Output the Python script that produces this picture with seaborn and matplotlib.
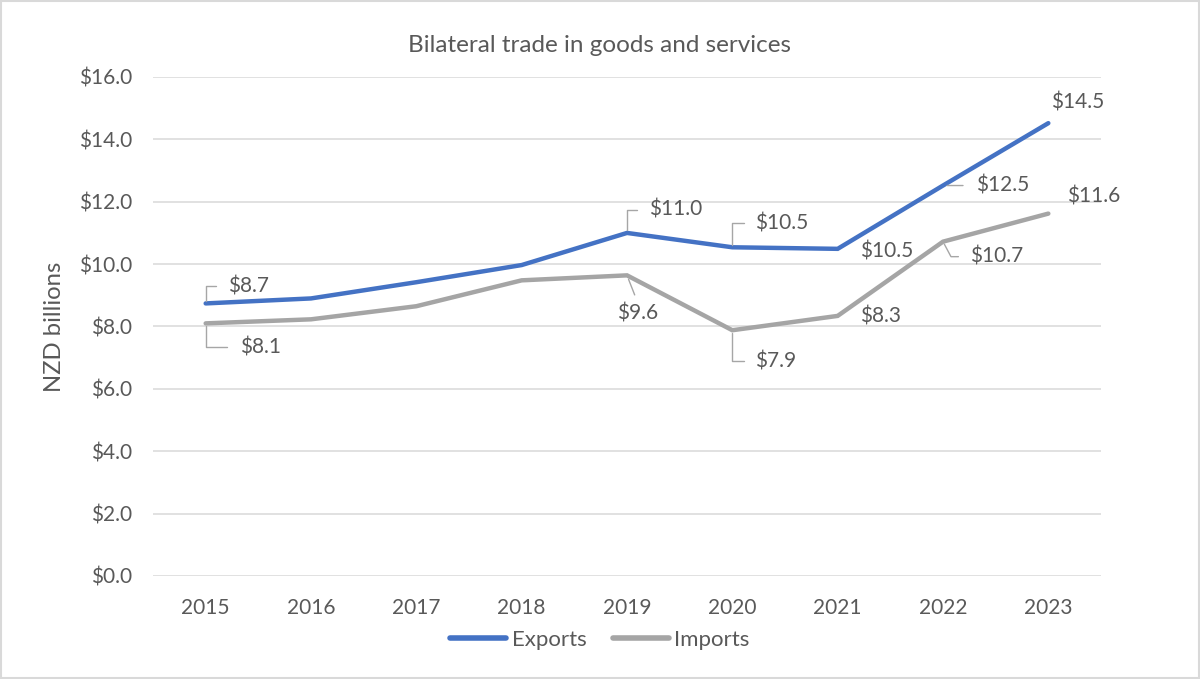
import matplotlib
matplotlib.use("Agg")
import matplotlib.pyplot as plt
import seaborn as sns
import pandas as pd
from matplotlib.patches import Rectangle
from matplotlib.ticker import FuncFormatter

# ---------------- data ----------------
years = [2015, 2016, 2017, 2018, 2019, 2020, 2021, 2022, 2023]
exports = [8.74, 8.90, 9.42, 9.97, 11.00, 10.54, 10.49, 12.52, 14.52]
imports = [8.10, 8.23, 8.65, 9.48, 9.64, 7.88, 8.34, 10.72, 11.62]
series_names = ["Exports", "Imports"]
title = "Bilateral trade in goods and services"
y_label = "NZD billions"
y_ticks = [0, 2, 4, 6, 8, 10, 12, 14, 16]

# ---------------- style ----------------
BLUE = "#4472C4"
GREY = "#A5A5A5"
TEXT = "#595959"
GRID = "#D9D9D9"
LEADER = "#A6A6A6"
FS = 15.0
FS_TITLE = 17.5
FS_YLAB = 17.2
FS_LEG = 16.0

sns.set_theme(style="white")
plt.rcParams["font.family"] = ["Lato", "DejaVu Sans"]

df = pd.DataFrame({
    "year": years * 2,
    "value": exports + imports,
    "series": [series_names[0]] * len(years) + [series_names[1]] * len(years),
})

fig = plt.figure(figsize=(12, 6.79), dpi=100)
ax = fig.add_axes([0.1275, 0.1517, 0.79, 0.7349])

sns.lineplot(data=df, x="year", y="value", hue="series",
             palette={series_names[0]: BLUE, series_names[1]: GREY},
             linewidth=3.2, sort=False, ax=ax, legend=True)
for ln in ax.lines:
    ln.set_solid_capstyle("round")
    ln.set_solid_joinstyle("miter")

ax.set_xlim(years[0] - 0.5, years[-1] + 0.5)
ax.set_ylim(y_ticks[0], y_ticks[-1])
ax.set_yticks(y_ticks)
ax.set_xticks(years)
ax.set_xticklabels([str(y) for y in years])
ax.yaxis.set_major_formatter(FuncFormatter(lambda v, p: f"${v:.1f}"))
ax.tick_params(axis="both", length=0, labelsize=FS, colors=TEXT)
ax.tick_params(axis="y", pad=15)
ax.tick_params(axis="x", pad=16)
for s in ax.spines.values():
    s.set_visible(False)
ax.grid(axis="y", color=GRID, linewidth=1.1)
ax.grid(axis="x", visible=False)
ax.set_axisbelow(True)
ax.set_xlabel("")
ax.set_ylabel(y_label, fontsize=FS_YLAB, color=TEXT, labelpad=10)

fig.text(0.5, 1 - 45 / 679, title, ha="center", va="center", fontsize=FS_TITLE, color=TEXT)

handles, labels = ax.get_legend_handles_labels()
ax.get_legend().remove()
leg = fig.legend(handles, labels, loc="center", bbox_to_anchor=(0.5, 1 - 640 / 679),
                 bbox_transform=fig.transFigure,
                 ncol=2, frameon=False, fontsize=FS_LEG, handlelength=2.5,
                 handletextpad=0.25, columnspacing=1.2, labelcolor=TEXT)
for h in leg.get_lines():
    h.set_linewidth(4)
    h.set_solid_capstyle("round")

# ---------------- data labels ----------------
def leader_props(style, shrinkA, angleB=90):
    if style is None:
        return None
    if style == "elbow":
        return dict(arrowstyle="-", color=LEADER, lw=1, shrinkA=shrinkA, shrinkB=2,
                    relpos=(0, 0.5),
                    connectionstyle=f"angle,angleA=0,angleB={angleB},rad=0")
    if style == "straight_left":
        return dict(arrowstyle="-", color=LEADER, lw=1, shrinkA=shrinkA, shrinkB=3,
                    relpos=(0, 0.5), connectionstyle="arc3")
    if style == "straight_top":
        return dict(arrowstyle="-", color=LEADER, lw=1, shrinkA=shrinkA, shrinkB=3,
                    relpos=(0.5, 1.0), connectionstyle="arc3")

# (series values, year index, dx px, dy px, ha, leader style, shrinkA pt, angleB)
label_layout = [
    (exports, 0, 22, 17, "left", "elbow", 6, 90),
    (imports, 0, 34, -24, "left", "elbow", 7, 90),
    (exports, 4, 22, 23, "left", "elbow", 6, 90),
    (exports, 5, 23, 24, "left", "elbow", 6, 90),
    (exports, 6, 22, -3, "left", None, 0, 90),
    (exports, 7, 33, 0, "left", "straight_left", 7, 90),
    (exports, 8, 3, 21, "left", None, 0, 90),
    (imports, 4, 11, -38, "center", "straight_top", 4, 90),
    (imports, 5, 23, -31, "left", "elbow", 6, 90),
    (imports, 6, 22, -1, "left", None, 0, 90),
    (imports, 7, 27, -15, "left", "elbow", 6, -62),
    (imports, 8, 19, 17, "left", None, 0, 90),
]
for vals, i, dx, dy, ha, style, sA, aB in label_layout:
    ax.annotate(f"${vals[i]:.1f}", xy=(years[i], vals[i]), xytext=(dx, dy),
                textcoords="offset pixels", ha=ha, va="center", fontsize=FS,
                color=TEXT, arrowprops=leader_props(style, sA, aB), zorder=5)

# chart border
fig.patches.append(Rectangle((0.001, 0.001), 0.998, 0.997, transform=fig.transFigure,
                             fill=False, edgecolor=GRID, linewidth=1.5))

fig.savefig("out.png", dpi=100, facecolor="white")
